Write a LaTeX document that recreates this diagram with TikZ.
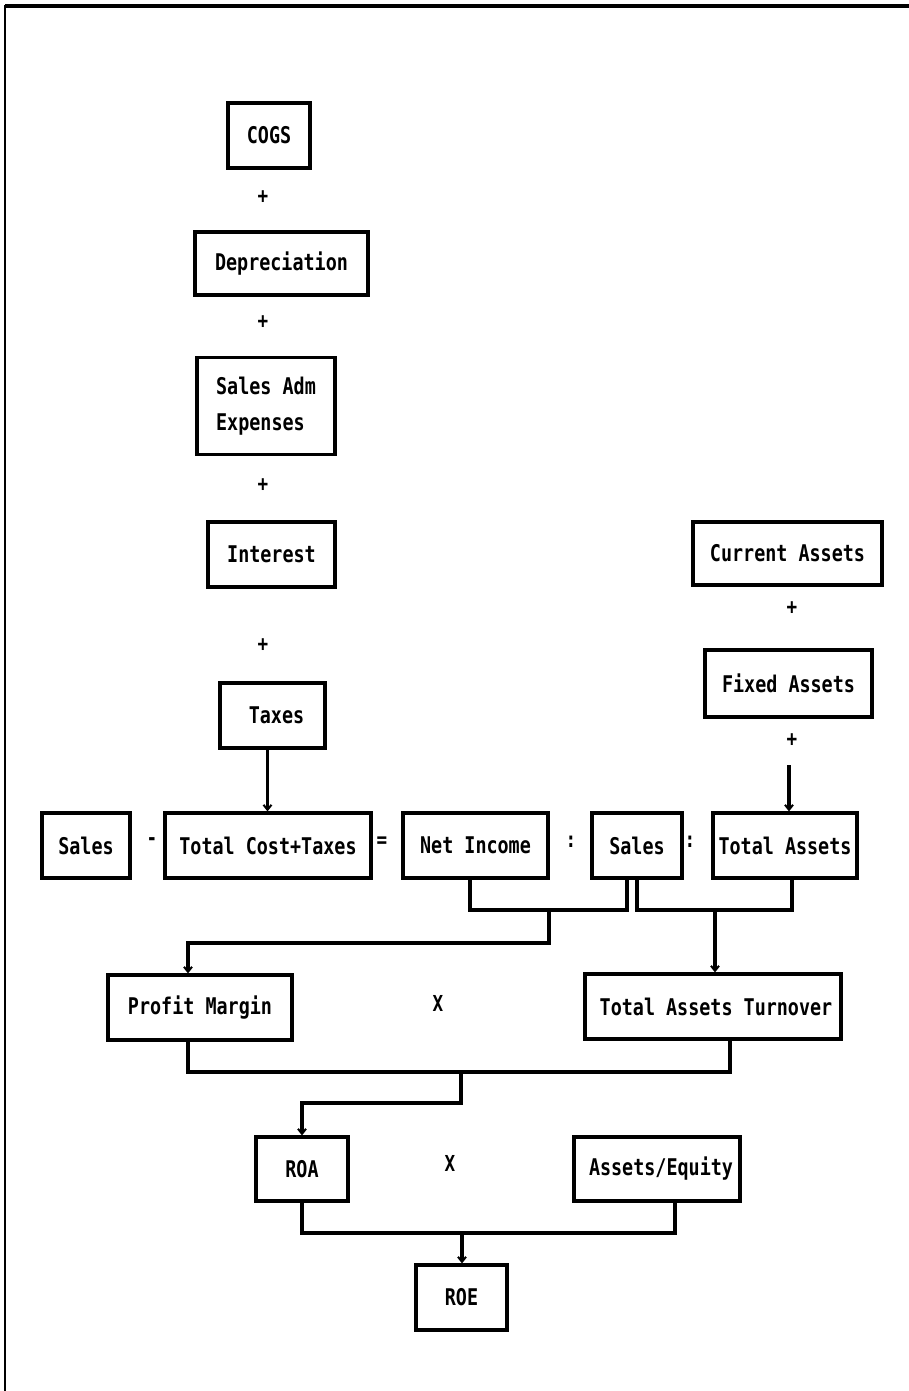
\documentclass[tikz,border=0pt]{standalone}
\usepackage{fontspec}
\usetikzlibrary{arrows.meta}
\newfontfamily\pix[FakeStretch=0.8]{DejaVu Sans Mono}
\begin{document}
\begin{tikzpicture}[x=1pt,y=-1pt,
  box/.style={draw,line width=3.2pt,inner sep=0pt,font=\pix\bfseries\fontsize{23}{27}\selectfont},
  op/.style={inner sep=0pt,font=\pix\bfseries\fontsize{22}{24}\selectfont},
  conn/.style={line width=3.2pt},
  arr/.style={line width=3.2pt,-{Straight Barb[length=5pt,width=8pt,line width=2pt]}}]
\useasboundingbox (0,0) rectangle (909,1391);
\fill[white] (0,0) rectangle (909,1391);
% frame
\draw[line width=2.5pt] (5,1391) -- (5,6) -- (909,6);
\draw[line width=4pt] (5,6) -- (909,6);

% left column
\node[box,minimum width=82pt,minimum height=65pt] (cogs) at (269,135.5) {COGS};
\node[op] (p1) at (263,197) {+};
\node[box,minimum width=173pt,minimum height=63pt] (dep) at (281.5,263.5) {Depreciation};
\node[op] (p2) at (263,322) {+};
\node[box,minimum width=138pt,minimum height=97pt,align=left,font=\pix\bfseries\fontsize{23}{36}\selectfont] (sga) at (266,406) {Sales Adm\\Expenses};
\node[op] (p3) at (263,485) {+};
\node[box,minimum width=127pt,minimum height=65pt] (int) at (271.5,554.5) {Interest};
\node[op] (p4) at (263,645) {+};
\node[box,minimum width=105pt,minimum height=65pt] (tax) at (272.5,715.5) {\hspace*{8pt}Taxes};

% right column
\node[box,minimum width=189pt,minimum height=63pt] (ca) at (787.5,553.5) {Current Assets};
\node[op] (p5) at (792,608) {+};
\node[box,minimum width=167pt,minimum height=67pt] (fa) at (788.5,683.5) {Fixed Assets};
\node[op] (p6) at (792,740) {+};
\coordinate (tain) at (789,765);

% equation row
\node[box,minimum width=88pt,minimum height=65pt] (s1) at (86,845.5) {Sales};
\node[op] (minus) at (152,842) {-};
\node[box,minimum width=206pt,minimum height=65pt] (tc) at (268,845.5) {Total Cost+Taxes};
\node[op] (eq) at (382,842) {=};
\node[box,minimum width=145pt,minimum height=65pt] (ni) at (475.5,845.5) {Net Income};
\node[op] (c1) at (571,842) {:};
\node[box,minimum width=90pt,minimum height=65pt] (s2) at (637,845.5) {Sales};
\node[op] (c2) at (690,842) {:};
\node[box,minimum width=144pt,minimum height=65pt] (ta) at (785,845.5) {Total Assets};

% ratios
\node[box,minimum width=184pt,minimum height=65pt] (pm) at (200,1007.5) {Profit Margin};
\node[op] (x1) at (438,1003) {X};
\node[box,minimum width=256pt,minimum height=65pt] (tat) at (713,1006.5) {\hspace*{6pt}Total Assets Turnover};
\node[box,minimum width=92pt,minimum height=64pt] (roa) at (302,1169) {ROA};
\node[op] (x2) at (450,1163) {X};
\node[box,minimum width=166pt,minimum height=64pt] (ae) at (657,1169) {\hspace*{8pt}Assets/Equity};
\node[box,minimum width=91pt,minimum height=65pt] (roe) at (461.5,1297.5) {ROE};

\coordinate (j1) at (549,910);
\coordinate (j2) at (715,910);
\coordinate (j3) at (461,1072);
\coordinate (j4) at (462,1233);

% connectors
\draw[arr] ([xshift=-5pt]tax.south) -- ([xshift=-5pt]tax.south |- tc.north);
\draw[arr] (tain) -- (tain |- ta.north);
\draw[conn] ([xshift=-5.5pt]ni.south) |- (j1) -| ([xshift=-10pt]s2.south);
\draw[conn] (s2.south) |- (j2) -| ([xshift=7pt]ta.south);
\draw[arr] (j1) -- ++(0,33) -| ([xshift=-12pt]pm.north);
\draw[arr] (j2) -- (j2 |- tat.north);
\draw[conn] ([xshift=-12pt]pm.south) |- (j3) -| ([xshift=17pt]tat.south);
\draw[arr] (j3) -- ++(0,31) -| (roa.north);
\draw[conn] (roa.south) |- (j4) -| ([xshift=18pt]ae.south);
\draw[arr] (j4) -- (j4 |- roe.north);
\end{tikzpicture}
\end{document}
